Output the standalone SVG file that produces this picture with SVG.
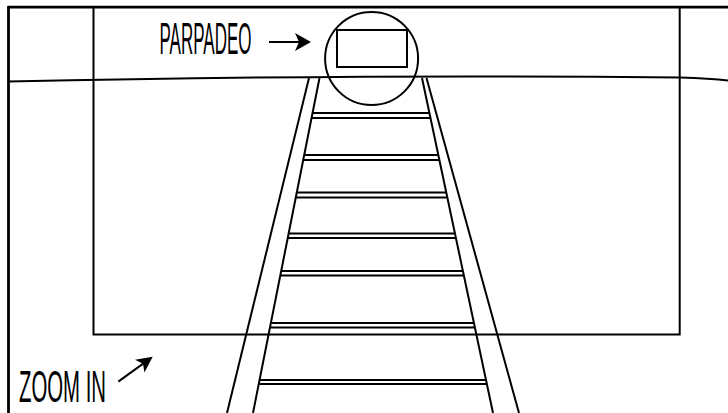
<svg xmlns="http://www.w3.org/2000/svg" width="728" height="413" viewBox="0 0 728 413">
<style>
.ln{stroke:#000;stroke-width:2;fill:none;stroke-linecap:butt}
.bd{stroke:#000;stroke-width:2.8;fill:none}
.lbl{font-family:"Liberation Sans",Arial,sans-serif;font-weight:400;font-size:45px;fill:#000}
.hd{fill:#000;stroke:none}
</style>
<rect width="728" height="413" fill="#fff"/>
<g id="frame">
  <line class="bd" x1="8" y1="7.2" x2="728" y2="7.2"/>
  <line class="bd" x1="8.5" y1="6" x2="8.5" y2="413"/>
  <path class="ln" d="M93.5,7 V334.5 H679.7 V7"/>
  <path class="ln" d="M8,81.5 Q360,74 680,77.5 Q710,78.5 728,80.5"/>
</g>
<g id="rails">
  <line class="ln" x1="309" y1="78" x2="227" y2="413"/>
  <line class="ln" x1="319.5" y1="78" x2="253" y2="413"/>
  <line class="ln" x1="422" y1="78" x2="493" y2="413"/>
  <line class="ln" x1="426.5" y1="78" x2="519" y2="413"/>
</g>
<g id="ties">
  <line class="ln" x1="312.6" y1="113" x2="429.4" y2="113"/>
  <line class="ln" x1="311.6" y1="118" x2="430.5" y2="118"/>
  <line class="ln" x1="304.3" y1="155" x2="438.3" y2="155"/>
  <line class="ln" x1="303.3" y1="160" x2="439.4" y2="160"/>
  <line class="ln" x1="296.9" y1="192.5" x2="446.3" y2="192.5"/>
  <line class="ln" x1="296" y1="197.5" x2="447.3" y2="197.5"/>
  <line class="ln" x1="288.9" y1="233.5" x2="455" y2="233.5"/>
  <line class="ln" x1="288" y1="238" x2="455.9" y2="238"/>
  <line class="ln" x1="281.5" y1="271" x2="462.9" y2="271"/>
  <line class="ln" x1="280.6" y1="275.5" x2="463.9" y2="275.5"/>
  <line class="ln" x1="271.2" y1="323" x2="473.9" y2="323"/>
  <line class="ln" x1="270.3" y1="327.5" x2="474.9" y2="327.5"/>
  <line class="ln" x1="260" y1="380" x2="486" y2="380"/>
  <line class="ln" x1="259.2" y1="384" x2="486.9" y2="384"/>
</g>
<g id="parpadeo">
  <circle class="ln" cx="371.6" cy="58.5" r="46.5"/>
  <rect class="ln" x="337" y="30" width="70" height="37"/>
  <text class="lbl" x="159.5" y="53.5" textLength="92" lengthAdjust="spacingAndGlyphs">PARPADEO</text>
</g>
<g id="zoom-in">
  <text class="lbl" x="19" y="402" textLength="87" lengthAdjust="spacingAndGlyphs">ZOOM IN</text>
</g>
<g id="connectors">
  <line class="ln" x1="269" y1="42" x2="300" y2="42"/>
  <polygon class="hd" points="311,42 295,33 299,42 295,51"/>
  <g transform="translate(152.7,356.7) rotate(-36)">
    <line class="ln" x1="-42.5" y1="0" x2="-11" y2="0"/>
    <polygon class="hd" points="0,0 -16,-8 -12,0 -16,8"/>
  </g>
</g>
</svg>
